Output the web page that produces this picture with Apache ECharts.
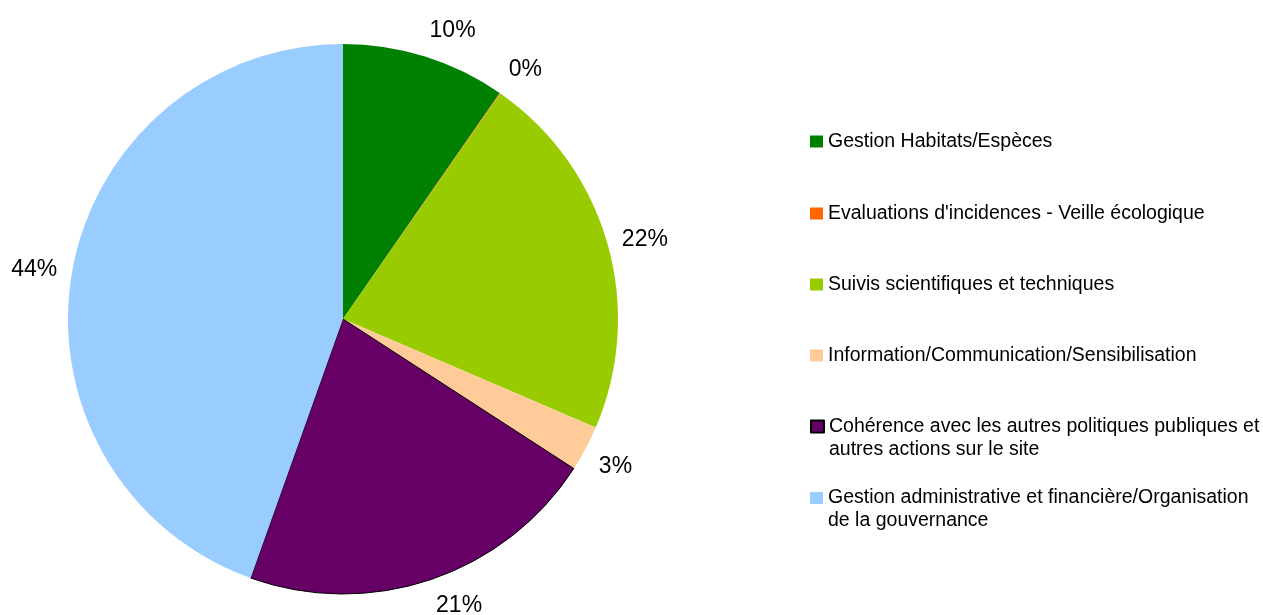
<!DOCTYPE html>
<html>
<head>
<meta charset="utf-8">
<script src="https://cdn.jsdelivr.net/npm/echarts@6/dist/echarts.min.js"></script>
<style>
html,body{margin:0;padding:0;background:#fff;}
#chart{width:1263px;height:615px;}
</style>
</head>
<body>
<div id="chart"></div>
<script>
const categories = [
  "Gestion Habitats/Espèces",
  "Evaluations d'incidences - Veille écologique",
  "Suivis scientifiques et techniques",
  "Information/Communication/Sensibilisation",
  "Cohérence avec les autres politiques publiques et\nautres actions sur le site",
  "Gestion administrative et financière/Organisation\nde la gouvernance"
];
const values = [9.65, 0.05, 21.75, 2.7, 21.3, 44.55];
const colors = ["#008000", "#ff6600", "#99cc00", "#ffcc99", "#660066", "#99ccff"];

const FONT = "'Liberation Sans', Arial, sans-serif";
const PIE_CENTER = [343, 319];
const legendFirstLineCenters = [141.5, 213.5, 284.5, 355.5, 426.5, 498];
const lineH = 23;

const legends = categories.map((name, i) => {
  const twoLine = name.indexOf('\n') >= 0;
  return {
    show: true,
    orient: 'vertical',
    left: 810,
    top: twoLine ? legendFirstLineCenters[i] - lineH * 1.5 : legendFirstLineCenters[i] - lineH / 2,
    padding: 0,
    itemWidth: 13,
    itemHeight: 12,
    itemGap: 0,
    icon: 'rect',
    selectedMode: false,
    data: [name],
    formatter: n => (n.indexOf('\n') >= 0 ? '\n' + n : n),
    textStyle: {
      fontFamily: FONT,
      fontSize: 19.5,
      lineHeight: lineH,
      color: '#000'
    }
  };
});

const chart = echarts.init(document.getElementById('chart'), null, {renderer: 'canvas'});
chart.setOption({
  animation: false,
  backgroundColor: '#fff',
  legend: legends,
  series: [{
    type: 'pie',
    center: PIE_CENTER,
    radius: 275,
    startAngle: 90,
    clockwise: true,
    avoidLabelOverlap: false,
    percentPrecision: 0,
    silent: true,
    emphasis: {disabled: true},
    label: {
      show: true,
      position: 'outside',
      formatter: '{d}%',
      fontFamily: FONT,
      fontSize: 23,
      color: '#000',
      distanceToLabelLine: 0
    },
    labelLine: {show: false, length: 15, length2: 0},
    labelLayout: function (params) {
      const pts = params.labelLinePoints;
      let ux, uy;
      if (pts && pts.length >= 2) {
        ux = pts[1][0] - PIE_CENTER[0];
        uy = pts[1][1] - PIE_CENTER[1];
      } else {
        const r = params.labelRect;
        ux = r.x + r.width / 2 - PIE_CENTER[0];
        uy = r.y + r.height / 2 - PIE_CENTER[1];
      }
      const len = Math.sqrt(ux * ux + uy * uy) || 1;
      uy /= len;
      return {
        verticalAlign: uy < -0.38 ? 'bottom' : (uy > 0.38 ? 'top' : 'middle')
      };
    },
    data: categories.map((name, i) => ({
      name: name,
      value: values[i],
      itemStyle: i === 4
        ? {color: colors[i], borderColor: '#000', borderWidth: 1}
        : {color: colors[i], borderWidth: 0}
    }))
  }]
});
</script>
</body>
</html>
